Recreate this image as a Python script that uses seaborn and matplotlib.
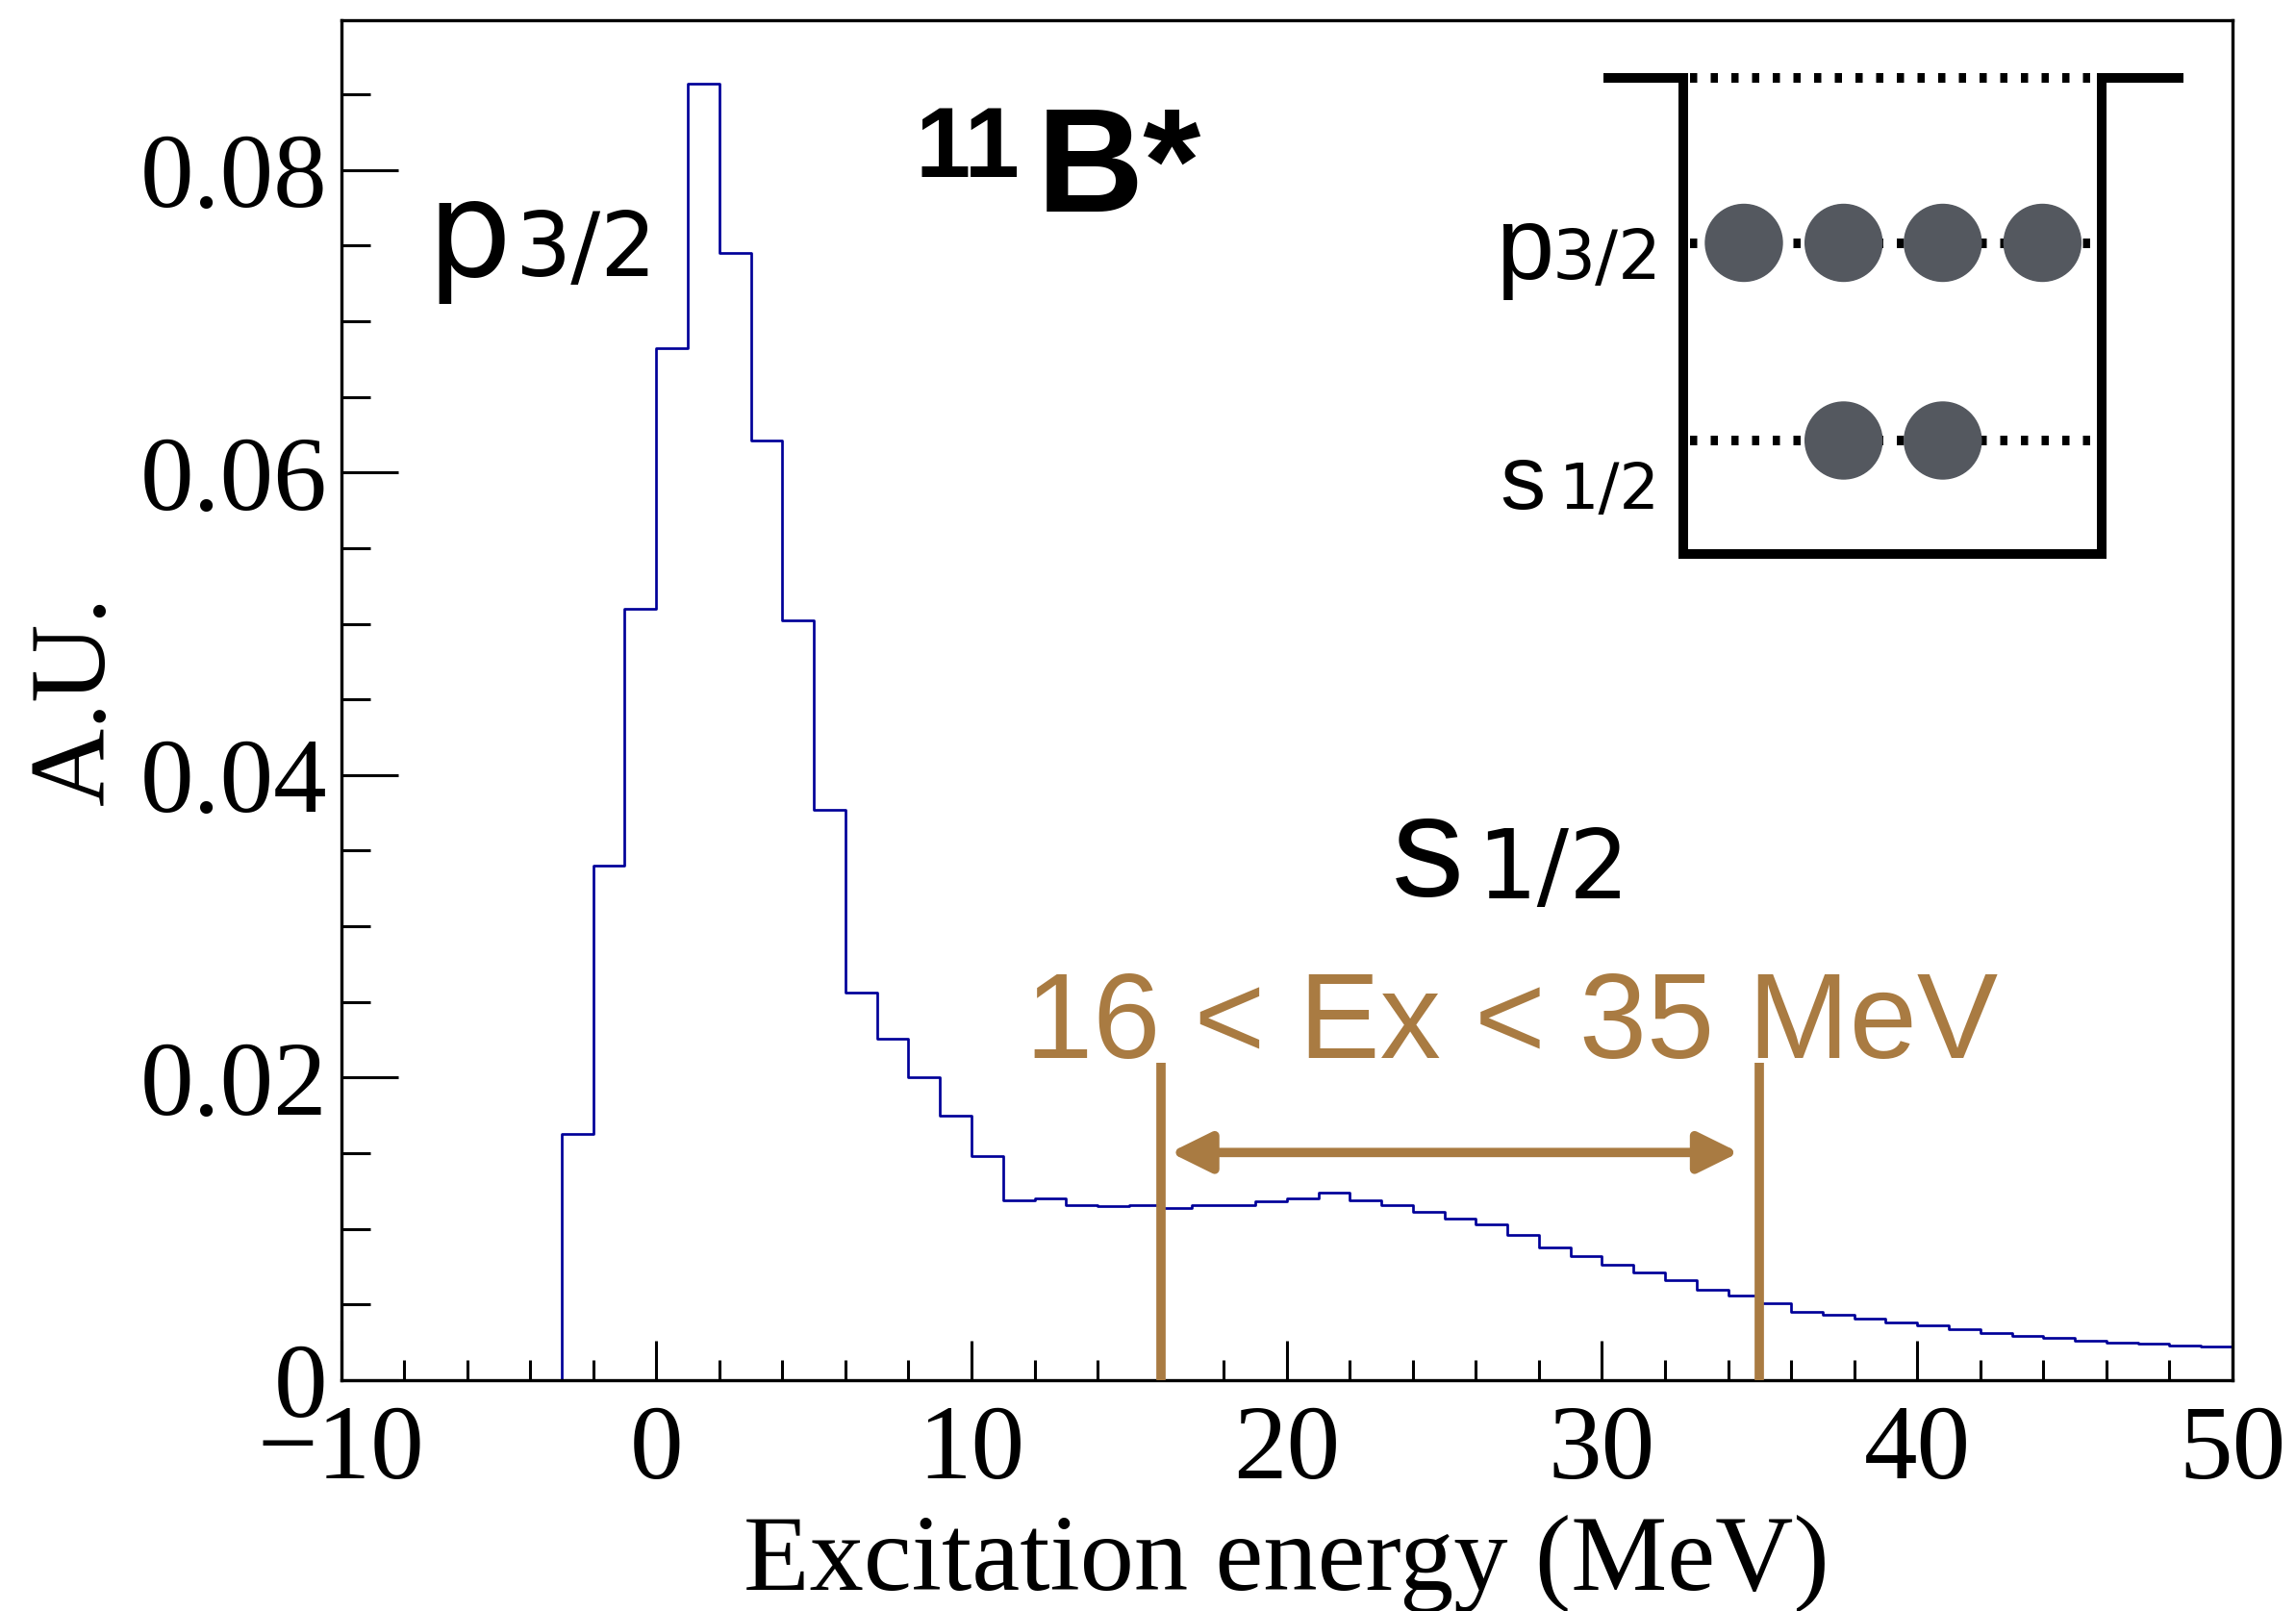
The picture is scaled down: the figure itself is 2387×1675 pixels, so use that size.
import numpy as np
import pandas as pd
import matplotlib
matplotlib.use("Agg")
import matplotlib.pyplot as plt
import seaborn as sns
from matplotlib.ticker import MultipleLocator, FixedLocator, FixedFormatter
from matplotlib.patches import Circle

# ---------------- data ----------------
bin_low_edges = list(range(-10, 50))          # 1 MeV bins from -10 to 50 MeV
bin_values = [0, 0, 0, 0, 0, 0, 0,
              0.0163, 0.0340, 0.0510, 0.0682, 0.0857, 0.0745, 0.0621, 0.0502,
              0.0377, 0.0256, 0.0226, 0.0200, 0.0175, 0.0148, 0.0119, 0.0120,
              0.01155, 0.0115, 0.0116, 0.0114, 0.0116, 0.0116, 0.0118, 0.0120,
              0.0124, 0.0119, 0.01155, 0.0111, 0.0107, 0.0103, 0.0096, 0.0088,
              0.0082, 0.0076, 0.0071, 0.0066, 0.0060, 0.0056, 0.0051, 0.0045,
              0.0043, 0.0041, 0.0038, 0.0036, 0.0034, 0.0031, 0.0029, 0.0028,
              0.0026, 0.0025, 0.0024, 0.0023, 0.0022]
x_ticks = [-10, 0, 10, 20, 30, 40, 50]
x_tick_labels = ["\u221210", "0", "10", "20", "30", "40", "50"]
y_ticks = [0, 0.02, 0.04, 0.06, 0.08]
y_tick_labels = ["0", "0.02", "0.04", "0.06", "0.08"]
s_range = [16, 35]          # MeV, selected s1/2 window
s_range_marker_height = 0.021
s_arrow_level = 0.01505

# ---------------- figure ----------------
W, H = 2387, 1675
sns.set_style("ticks")
plt.rcParams["font.family"] = ["Liberation Serif", "DejaVu Serif"]
for k in ["text.color", "axes.labelcolor", "xtick.color", "ytick.color",
          "axes.edgecolor"]:
    plt.rcParams[k] = "black"

fig = plt.figure(figsize=(W / 100, H / 100), dpi=100)
fig.patch.set_facecolor("white")
ax = fig.add_axes([354.5 / W, (H - 1435) / H, (2321 - 354.5) / W, (1435 - 21) / H])

df = pd.DataFrame({"Ex": [e + 0.5 for e in bin_low_edges], "w": bin_values})
edges = bin_low_edges + [bin_low_edges[-1] + 1]
sns.histplot(data=df, x="Ex", weights="w", bins=edges, element="step",
             fill=False, color="#000099", linewidth=1.95, ax=ax, zorder=2)

orange = "#A97B42"
ax.vlines(s_range, 0, s_range_marker_height, color=orange, lw=7, zorder=3)
ax.annotate("", xy=(s_range[1] - 0.65, s_arrow_level),
            xytext=(s_range[0] + 0.3, s_arrow_level),
            arrowprops=dict(arrowstyle="<|-|>,head_length=0.85,head_width=0.42",
                            mutation_scale=30, lw=7, color=orange,
                            shrinkA=0, shrinkB=0), zorder=3)

ax.set_xlim(-10, 50)
ax.set_ylim(0, 0.0899)
ax.xaxis.set_major_locator(FixedLocator(x_ticks))
ax.xaxis.set_major_formatter(FixedFormatter(x_tick_labels))
ax.xaxis.set_minor_locator(MultipleLocator(2))
ax.yaxis.set_major_locator(FixedLocator(y_ticks))
ax.yaxis.set_major_formatter(FixedFormatter(y_tick_labels))
ax.yaxis.set_minor_locator(MultipleLocator(0.005))

ax.tick_params(axis="x", which="major", direction="in", length=29.5, width=2.2,
               labelsize=80, pad=18.5, top=False, color="black", labelcolor="black")
ax.tick_params(axis="x", which="minor", direction="in", length=15, width=2.2,
               top=False, color="black")
ax.tick_params(axis="y", which="major", direction="in", length=42.5, width=2.2,
               labelsize=80, pad=10, right=False, color="black", labelcolor="black")
ax.tick_params(axis="y", which="minor", direction="in", length=21.6, width=2.2,
               right=False, color="black")
for sp in ax.spines.values():
    sp.set_linewidth(2.4)
    sp.set_color("black")
    sp.set_visible(True)

ax.set_xlabel("Excitation energy (MeV)", fontsize=81, color="black")
ax.xaxis.set_label_coords(0.5, -0.099)
ax.set_ylabel("A.U.", fontsize=81, color="black")
ax.yaxis.set_label_coords(-0.113, 0.5)

# ---------------- overlay in pixel coordinates ----------------
ov = fig.add_axes([0, 0, 1, 1], zorder=5)
ov.set_xlim(0, W)
ov.set_ylim(H, 0)
ov.axis("off")
ov.patch.set_alpha(0)

sans = ["Liberation Sans", "DejaVu Sans"]
wide = ["DejaVu Sans", "Liberation Sans"]

def txt(x, y, s, size, color="black", weight="normal", fam=sans):
    ov.text(x, y, s, fontsize=size, color=color, family=fam, weight=weight,
            ha="left", va="baseline")

# big labels
txt(443, 287, "p", 100, fam=wide)
txt(535, 287, "3/2", 66, fam=wide)
txt(952, 184, "11", 74, weight="bold")
txt(1078, 220, "B*", 111, weight="bold")
txt(1447, 932, "s", 108)
txt(1535, 934, "1/2", 71, fam=wide)
txt(1066, 1100, "16 < Ex < 35 MeV", 91, color=orange)

# inset: potential well with shells
lwk = 7.2
ov.plot([1667, 1750, 1750, 2185, 2185, 2270], [81, 81, 576, 576, 81, 81],
        color="black", lw=lwk, solid_joinstyle="miter", solid_capstyle="butt")
dots = (0, (0.75, 1.4))
ov.plot([1757, 2180], [81, 81], color="black", lw=lwk, linestyle=dots)
ov.plot([1757, 2180], [252.5, 252.5], color="black", lw=lwk, linestyle=dots)
ov.plot([1757, 2180], [458, 458], color="black", lw=lwk, linestyle=dots)
grey = "#54585F"
for cx in [1813, 1916.7, 2019.8, 2123.4]:
    ov.add_patch(Circle((cx, 252.5), 40, color=grey, zorder=6))
for cx in [1916.7, 2019.8]:
    ov.add_patch(Circle((cx, 458), 40, color=grey, zorder=6))
txt(1555, 290, "p", 78)
txt(1614, 290, "3/2", 51, fam=wide)
txt(1559, 529, "s", 68)
txt(1621, 529, "1/2", 47, fam=wide)

fig.savefig("out.png", dpi=100, facecolor="white")
